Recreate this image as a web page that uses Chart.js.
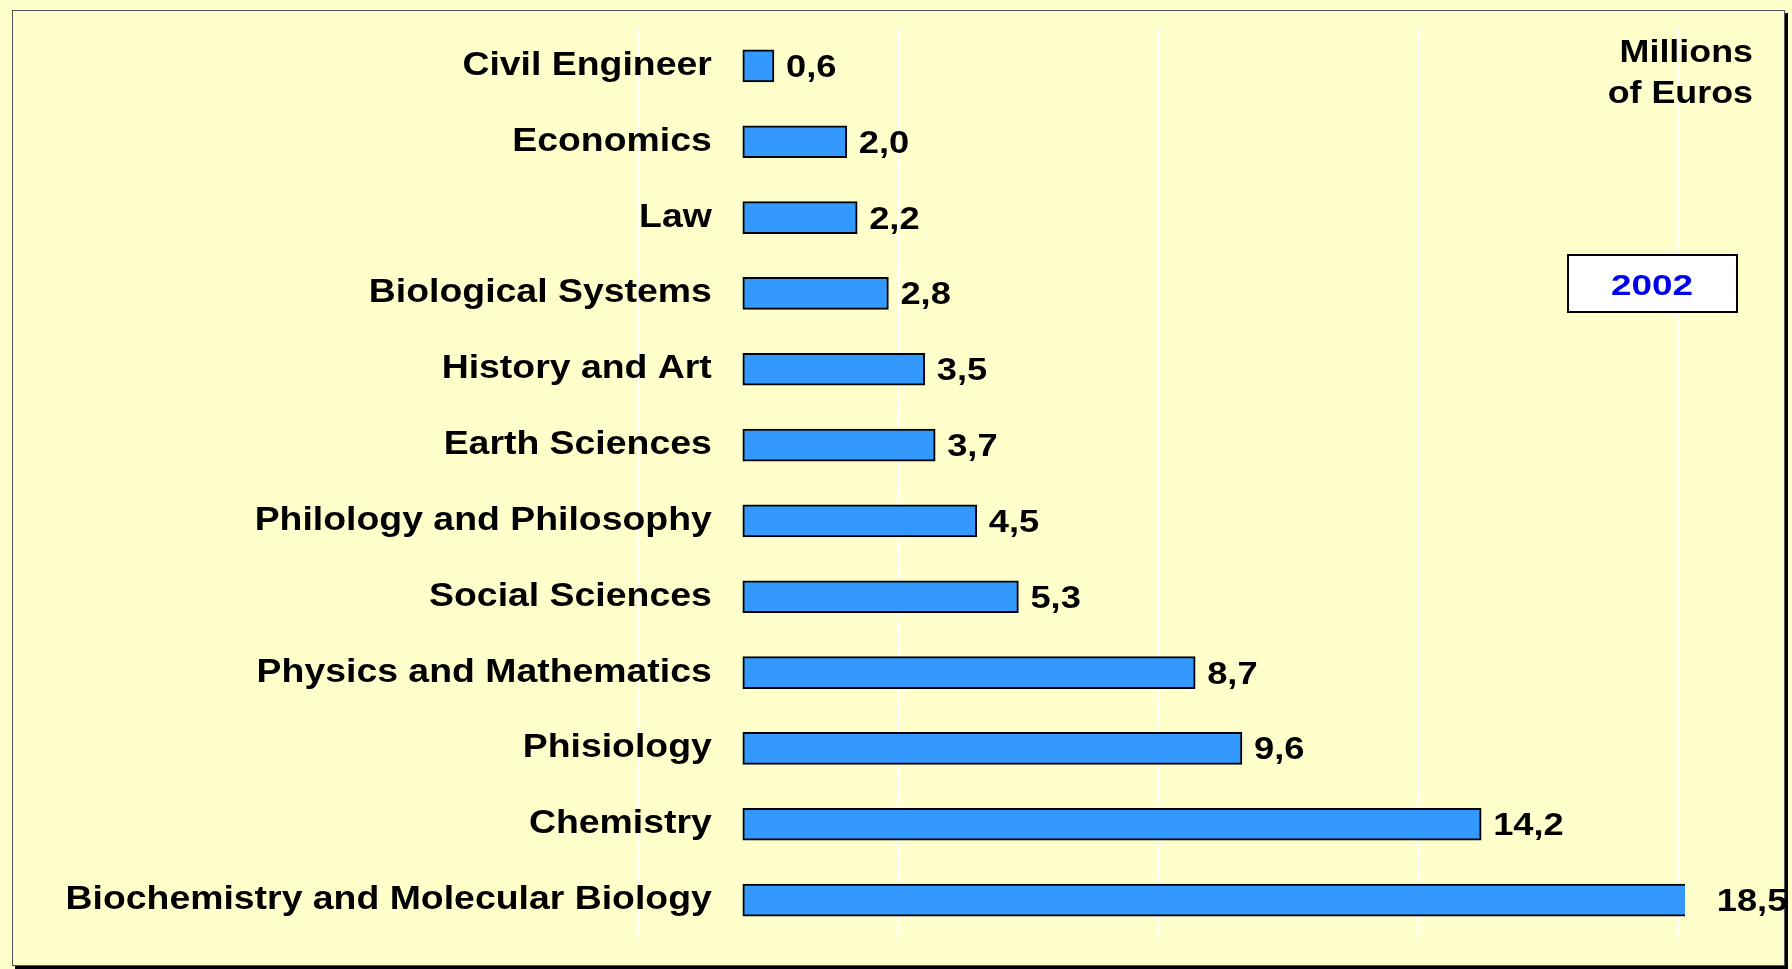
<!DOCTYPE html>
<html>
<head>
<meta charset="utf-8">
<script src="https://cdn.jsdelivr.net/npm/chart.js@4/dist/chart.umd.min.js"></script>
<style>
    body { margin: 0; background: #FFFFCC; overflow: hidden; }
    #frame {
        position: absolute; left: 12px; top: 10px; width: 1771px; height: 954px;
        border: 1px solid #555; box-shadow: 3px 3px 0 #000; background: #FFFFCC;
    }
    #chart { position: absolute; left: 0; top: 0; }
</style>
</head>
<body>
<div id="frame"></div>
<canvas id="chart" width="1792" height="969"></canvas>
<script>
// Data
const categories = ['Civil Engineer', 'Economics', 'Law', 'Biological Systems', 'History and Art',
    'Earth Sciences', 'Philology and Philosophy', 'Social Sciences', 'Physics and Mathematics',
    'Phisiology', 'Chemistry', 'Biochemistry and Molecular Biology'];
const funding = [0.6, 2.0, 2.2, 2.8, 3.5, 3.7, 4.5, 5.3, 8.7, 9.6, 14.2, 18.5];
const gridValues = [-2, 3, 8, 13, 18];
const unitLines = ['Millions', 'of Euros'];
const yearLabel = '2002';

const FONT = '"Liberation Sans", Arial, sans-serif';

function fmt(v) {
    return v.toFixed(1).replace('.', ',');
}

// text is a little wider than normal Arial in the original, so stretch it
function drawText(ctx, text, x, y, size, align, stretch, color) {
    ctx.save();
    ctx.font = 'bold ' + size + 'px ' + FONT;
    ctx.fillStyle = color || '#000';
    ctx.textAlign = align;
    ctx.textBaseline = 'alphabetic';
    ctx.translate(x, y);
    ctx.scale(stretch, 1);
    ctx.fillText(text, 0, 0);
    ctx.restore();
}

// category names, values, unit note and year box
const labelsPlugin = {
    id: 'labels',
    afterDatasetsDraw(chart) {
        const ctx = chart.ctx;
        const xs = chart.scales.x;
        const ys = chart.scales.y;
        const zero = xs.getPixelForValue(0);
        categories.forEach((name, i) => {
            const cy = ys.getPixelForTick(i);
            drawText(ctx, name, zero - 31, cy + 9, 34, 'right', 1.1);
            drawText(ctx, fmt(funding[i]), xs.getPixelForValue(funding[i]) + 12, cy + 11, 31, 'left', 1.17);
        });

        drawText(ctx, unitLines[0], 1753, 62, 32, 'right', 1.12);
        drawText(ctx, unitLines[1], 1753, 103, 32, 'right', 1.12);

        // year box
        ctx.save();
        ctx.fillStyle = '#fff';
        ctx.fillRect(1568, 255, 169, 57);
        ctx.strokeStyle = '#000';
        ctx.lineWidth = 2;
        ctx.strokeRect(1568, 255, 169, 57);
        ctx.restore();
        drawText(ctx, yearLabel, 1652, 295, 30, 'center', 1.23, '#0000EE');
    }
};

const ctx = document.getElementById('chart').getContext('2d');
const chart = new Chart(ctx, {
    type: 'bar',
    data: {
        labels: categories,
        datasets: [{
            data: funding,
            backgroundColor: '#3399FF',
            borderColor: '#000',
            borderWidth: 2,
            borderSkipped: false,
            barThickness: 32,
            clip: 0
        }]
    },
    options: {
        indexAxis: 'y',
        responsive: false,
        animation: false,
        layout: {
            padding: { left: 19, right: 107, top: 28, bottom: 31 }
        },
        plugins: {
            legend: { display: false },
            tooltip: { enabled: false }
        },
        scales: {
            x: {
                min: -13.92,
                max: 18.12,
                afterBuildTicks: axis => {
                    axis.ticks = gridValues.map(v => ({ value: v }));
                },
                ticks: { display: false },
                grid: { color: '#FFFFFF', lineWidth: 1, drawTicks: false },
                border: { display: false }
            },
            y: {
                display: false
            }
        }
    },
    plugins: [labelsPlugin]
});
</script>
</body>
</html>
